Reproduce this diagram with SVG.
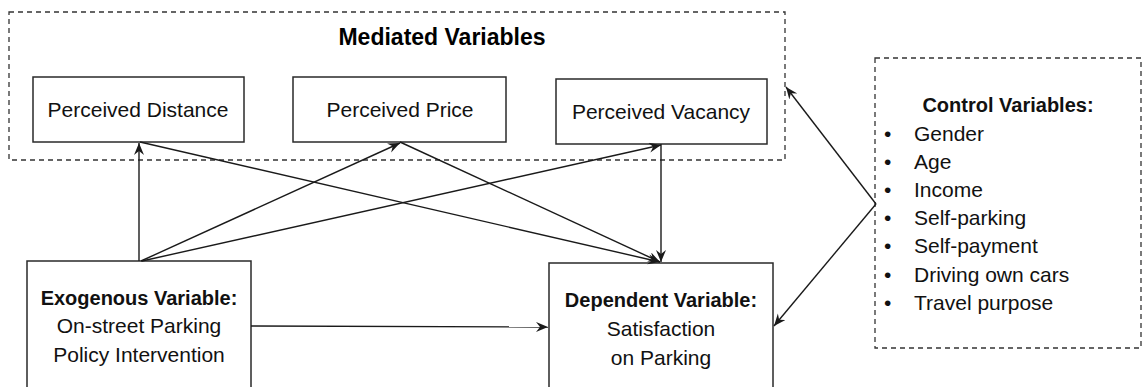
<svg xmlns="http://www.w3.org/2000/svg" width="1142" height="387" viewBox="0 0 1142 387">
<style>
.box{fill:#fff;stroke:#2a2a2a;stroke-width:1.5}
.dash{fill:none;stroke:#333;stroke-width:1.3;stroke-dasharray:5 4}
.t{font-family:"Liberation Sans",Arial,sans-serif;font-size:21px;fill:#111}
.b{font-family:"Liberation Sans",Arial,sans-serif;font-size:20px;font-weight:bold;fill:#111}
.title{font-family:"Liberation Sans",Arial,sans-serif;font-size:23px;font-weight:bold;fill:#000}
.c line{stroke:#1a1a1a;stroke-width:1.4;marker-end:url(#ah)}
</style>
<defs>
<marker id="ah" markerUnits="userSpaceOnUse" markerWidth="13" markerHeight="11" refX="12" refY="5" orient="auto">
<path d="M0,0 L12,5 L0,10 L4,5 z" fill="#1a1a1a"/>
</marker>
</defs>
<rect width="1142" height="387" fill="#fff"/>
<g id="mediated">
<rect class="dash" x="9" y="12" width="776" height="148"/>
<text class="title" x="442" y="45" text-anchor="middle">Mediated Variables</text>
</g>
<g id="perceived-distance">
<rect class="box" x="33" y="77" width="211" height="65"/>
<text class="t" x="138" y="117" text-anchor="middle">Perceived Distance</text>
</g>
<g id="perceived-price">
<rect class="box" x="293" y="77" width="213" height="65"/>
<text class="t" x="400" y="117" text-anchor="middle">Perceived Price</text>
</g>
<g id="perceived-vacancy">
<rect class="box" x="556" y="79" width="211" height="65"/>
<text class="t" x="661" y="119" text-anchor="middle">Perceived Vacancy</text>
</g>
<g id="control">
<rect class="dash" x="875" y="58" width="266" height="290"/>
<text class="b" x="1008" y="112" text-anchor="middle">Control Variables:</text>
<g class="t">
<text x="884" y="141">•</text><text x="914" y="141">Gender</text>
<text x="884" y="169">•</text><text x="914" y="169">Age</text>
<text x="884" y="197">•</text><text x="914" y="197">Income</text>
<text x="884" y="225">•</text><text x="914" y="225">Self-parking</text>
<text x="884" y="253">•</text><text x="914" y="253">Self-payment</text>
<text x="884" y="282">•</text><text x="914" y="282">Driving own cars</text>
<text x="884" y="310">•</text><text x="914" y="310">Travel purpose</text>
</g>
</g>
<g id="exogenous">
<rect class="box" x="27" y="261" width="224" height="140"/>
<text class="b" x="139" y="305" text-anchor="middle">Exogenous Variable:</text>
<text class="t" x="139" y="333" text-anchor="middle">On-street Parking</text>
<text class="t" x="139" y="362" text-anchor="middle">Policy Intervention</text>
</g>
<g id="dependent">
<rect class="box" x="549" y="263" width="224" height="140"/>
<text class="b" x="661" y="307" text-anchor="middle">Dependent Variable:</text>
<text class="t" x="661" y="336" text-anchor="middle">Satisfaction</text>
<text class="t" x="661" y="365" text-anchor="middle">on Parking</text>
</g>
<g id="connectors" class="c">
<line x1="139" y1="261" x2="139" y2="143"/>
<line x1="141" y1="261" x2="400" y2="143"/>
<line x1="142" y1="261" x2="661" y2="145"/>
<line x1="140" y1="142" x2="660" y2="262"/>
<line x1="400" y1="142" x2="660" y2="262"/>
<line x1="661" y1="144" x2="661" y2="262"/>
<line x1="251" y1="326" x2="548" y2="327"/>
<line x1="876" y1="204" x2="786" y2="87"/>
<line x1="876" y1="204" x2="774" y2="326"/>
</g>
</svg>
